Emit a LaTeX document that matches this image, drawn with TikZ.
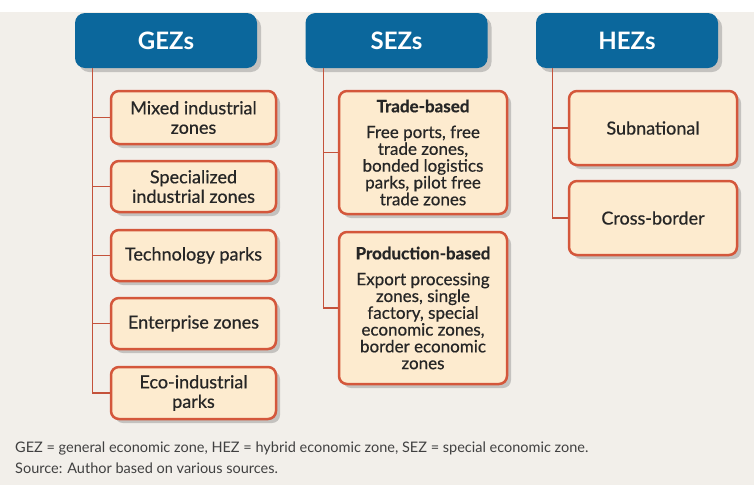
\documentclass[tikz,border=0pt]{standalone}
\usepackage{fontspec}
\setmainfont{Lato}
\newfontfamily\zonefont{Lato}[FakeBold=0.6]
\usetikzlibrary{shadows}
\definecolor{zoneblue}{HTML}{0B679C}
\definecolor{zoneedge}{HTML}{D4573B}
\definecolor{zonefill}{HTML}{FDEBCF}
\definecolor{zoneline}{HTML}{C4523B}
\definecolor{pagebg}{HTML}{F2EFEA}
\tikzset{
  head/.style={fill=zoneblue, rounded corners=10pt, minimum width=182pt,
    minimum height=55pt, text=white, font=\bfseries\fontsize{24}{26}\selectfont,
    drop shadow={opacity=0.4, shadow xshift=4pt, shadow yshift=-4pt}},
  leaf/.style={draw=zoneedge, line width=2.5pt, fill=zonefill, rounded corners=8pt,
    align=center, inner sep=2pt, text=black!85, font=\zonefont\fontsize{18}{19.5}\selectfont,
    drop shadow={opacity=0.4, shadow xshift=4pt, shadow yshift=-4pt}},
  longleaf/.style={leaf, minimum width=168pt, font=\zonefont\fontsize{17}{16.8}\selectfont},
  link/.style={draw=zoneline, line width=1.2pt},
  note/.style={anchor=west, inner sep=0pt, text=black!75, font=\fontsize{14.5}{16}\selectfont}
}
\begin{document}
\begin{tikzpicture}[x=1pt, y=1pt]
\useasboundingbox (0,0) rectangle (754,-485);
\fill[white] (0,0) rectangle (754,-12);
\fill[pagebg] (0,-12) rectangle (754,-485);

% headers
\node[head] (gez) at (166,-40.5) {GEZs};
\node[head] (sez) at (396.5,-40.5) {SEZs};
\node[head] (hez) at (627,-40.5) {HEZs};

% GEZ column
\node[leaf, minimum width=165pt, minimum height=53pt] (mixed) at (193.5,-117.5) {Mixed industrial\\ zones};
\node[leaf, minimum width=165pt, minimum height=51pt] (special) at (193.5,-186.5) {Specialized\\ industrial zones};
\node[leaf, minimum width=165pt, minimum height=51pt] (techno) at (193.5,-255.5) {Technology parks};
\node[leaf, minimum width=165pt, minimum height=51pt] (enter) at (193.5,-323.5) {Enterprise zones};
\node[leaf, minimum width=165pt, minimum height=52pt] (eco) at (193.5,-393) {Eco-industrial\\ parks};

% SEZ column
\node[longleaf, minimum height=123pt] (trade) at (423,-152.5)
  {{\bfseries Trade-based}\\[9pt] Free ports, free\\ trade zones,\\ bonded logistics\\ parks, pilot free\\ trade zones};
\node[longleaf, minimum height=152pt] (prod) at (423,-308)
  {{\bfseries Production-based}\\[9pt] Export processing\\ zones, single\\ factory, special\\ economic zones,\\ border economic\\ zones};

% HEZ column
\node[leaf, minimum width=168pt, minimum height=74pt] (subnat) at (653,-128) {Subnational};
\node[leaf, minimum width=168pt, minimum height=74pt] (cross) at (653,-218) {Cross-border};

% connectors
\draw[link] ([xshift=18pt]gez.south west) |- (mixed.west);
\draw[link] ([xshift=18pt]gez.south west) |- (special.west);
\draw[link] ([xshift=18pt]gez.south west) |- (techno.west);
\draw[link] ([xshift=18pt]gez.south west) |- (enter.west);
\draw[link] ([xshift=18pt]gez.south west) |- (eco.west);
\draw[link] ([xshift=18pt]sez.south west) |- (trade.west);
\draw[link] ([xshift=18pt]sez.south west) |- (prod.west);
\draw[link] ([xshift=17pt]hez.south west) |- (subnat.west);
\draw[link] ([xshift=17pt]hez.south west) |- (cross.west);

% notes
\node[note] (abbr) at (15,-448) {GEZ = general economic zone, HEZ = hybrid economic zone, SEZ = special economic zone.};
\node[note] (src) at (15,-468) {Source: Author based on various sources.};
\end{tikzpicture}
\end{document}
